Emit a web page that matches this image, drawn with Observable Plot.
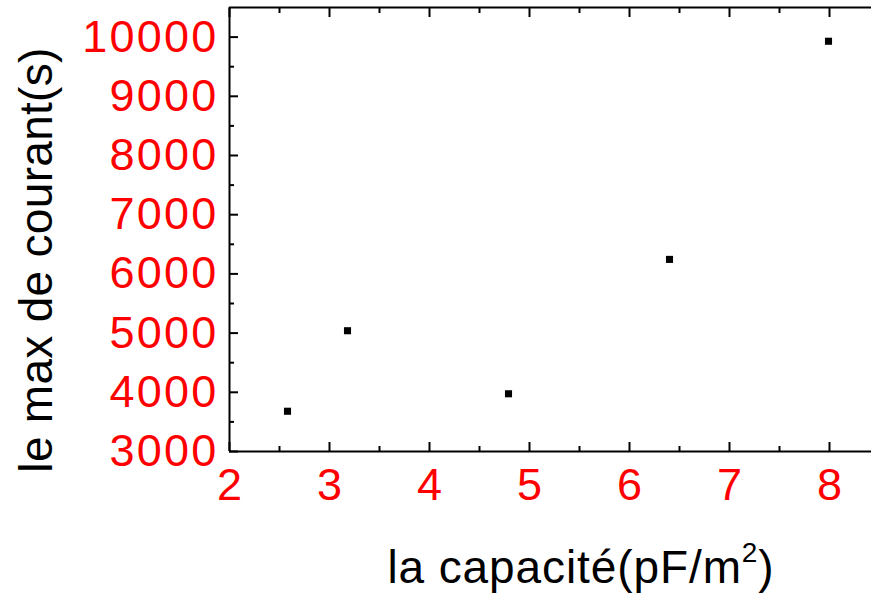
<!DOCTYPE html>
<html>
<head>
<meta charset="utf-8">
<script src="https://cdn.jsdelivr.net/npm/d3@7"></script>
<script src="https://cdn.jsdelivr.net/npm/@observablehq/plot@0.6"></script>
<style>
  html, body { margin: 0; padding: 0; background: #fff; }
  svg { display: block; }
</style>
</head>
<body>
<div id="chart"></div>
<script>
const capacite = [2.58, 3.18, 4.79, 6.40, 7.99];
const maxCourant = [3680, 5040, 3975, 6245, 9930];
const xTicks = [2, 3, 4, 5, 6, 7, 8];
const xMinorTicks = [2.5, 3.5, 4.5, 5.5, 6.5, 7.5];
const yTicks = [3000, 4000, 5000, 6000, 7000, 8000, 9000, 10000];
const yMinorTicks = [3500, 4500, 5500, 6500, 7500, 8500, 9500];
const xTitle = "la capacité(pF/m";
const xTitleSup = "2";
const xTitleEnd = ")";
const yTitle = "le max de courant(s)";

const data = capacite.map((c, i) => ({x: c, y: maxCourant[i]}));
const xDomain = [2, 8.42];
const yDomain = [3000, 10500];

const chart = Plot.plot({
  width: 871,
  height: 596,
  marginLeft: 229,
  marginRight: 0,
  marginTop: 7,
  marginBottom: 145,
  style: {fontFamily: "'Liberation Sans', Arial, sans-serif", background: "#fff"},
  x: {domain: xDomain, label: null},
  y: {domain: yDomain, label: null},
  marks: [
    Plot.ruleX([xDomain[0]], {stroke: "black", strokeWidth: 2}),
    Plot.ruleY([yDomain[0]], {stroke: "black", strokeWidth: 2}),
    Plot.ruleY([yDomain[1]], {stroke: "black", strokeWidth: 2}),
    Plot.axisY({ticks: yTicks, tickSize: -9, tickPadding: 20, strokeWidth: 2, fill: "red", fontSize: 45, tickFormat: d => String(d), label: null}),
    Plot.axisY({ticks: yMinorTicks, tickSize: -5, strokeWidth: 2, tickFormat: () => "", label: null}),
    Plot.axisX({ticks: xTicks, tickSize: -9, tickPadding: 26, strokeWidth: 2, fill: "red", fontSize: 45, tickFormat: d => String(d), label: null}),
    Plot.axisX({ticks: xMinorTicks, tickSize: -5, strokeWidth: 2, tickFormat: () => "", label: null}),
    Plot.axisX({anchor: "top", ticks: xTicks, tickSize: -9, strokeWidth: 2, tickFormat: () => "", label: null}),
    Plot.axisX({anchor: "top", ticks: xMinorTicks, tickSize: -5, strokeWidth: 2, tickFormat: () => "", label: null}),
    Plot.dot(data, {x: "x", y: "y", symbol: "square", r: 4, fill: "black", stroke: "none"})
  ]
});

const svg = d3.select(chart);
// widen tick labels slightly like the reference
svg.selectAll("g[aria-label='y-axis tick label'] text").attr("letter-spacing", "2.2px");

const xt = svg.append("text")
  .attr("x", 581).attr("y", 583)
  .attr("text-anchor", "middle")
  .attr("font-family", "'Liberation Sans', Arial, sans-serif")
  .attr("font-size", 46)
  .attr("letter-spacing", "0.9px")
  .attr("fill", "black");
xt.append("tspan").text(xTitle);
xt.append("tspan").attr("font-size", 28).attr("dy", -21).text(xTitleSup);
xt.append("tspan").attr("dy", 21).text(xTitleEnd);

svg.append("text")
  .attr("transform", "translate(52,260) rotate(-90)")
  .attr("text-anchor", "middle")
  .attr("font-family", "'Liberation Sans', Arial, sans-serif")
  .attr("font-size", 46)
  .attr("letter-spacing", "0.3px")
  .attr("fill", "black")
  .text(yTitle);

document.getElementById("chart").appendChild(chart);
</script>
</body>
</html>
